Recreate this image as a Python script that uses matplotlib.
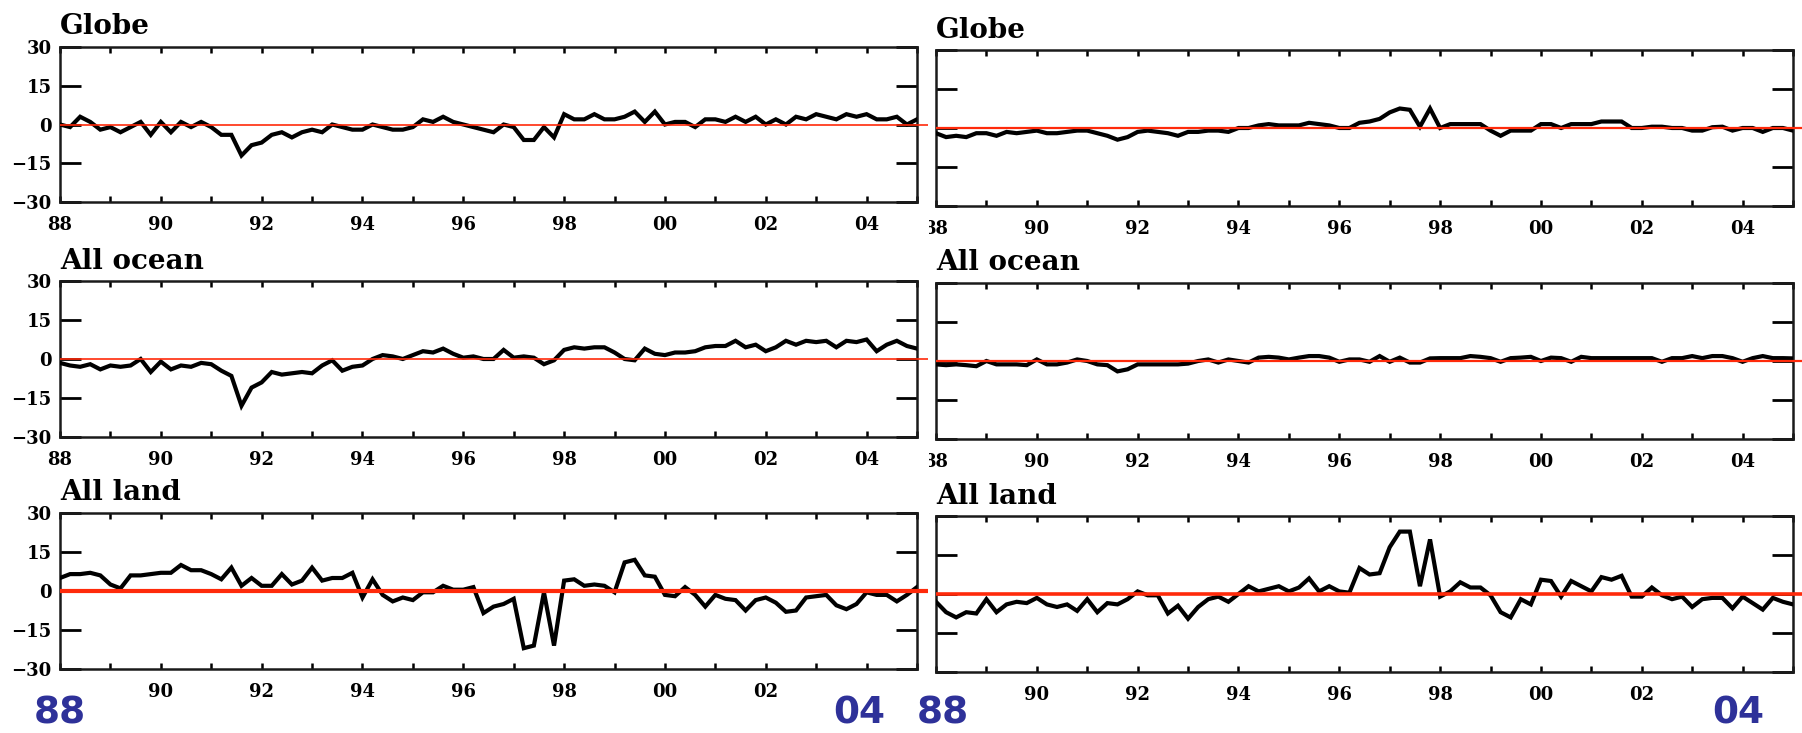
import numpy as np
import matplotlib
matplotlib.use("Agg")
import matplotlib.pyplot as plt
from matplotlib.patches import Rectangle

# ---------------- data (decimal-year samples, every 0.2 yr) ----------------
years = np.round(np.arange(1988.0, 2005.01, 0.2), 1)

globe_left = [0, -1, 3, 1, -2,
              -1, -3, -1, 1, -4,
              1, -3, 1, -1, 1,
              -1, -4, -4, -12, -8,
              -7, -4, -3, -5, -3,
              -2, -3, 0, -1, -2,
              -2, 0, -1, -2, -2,
              -1, 2, 1, 3, 1,
              0, -1, -2, -3, 0,
              -1, -6, -6, -1, -5,
              4, 2, 2, 4, 2,
              2, 3, 5, 1, 5,
              0, 1, 1, -1, 2,
              2, 1, 3, 1, 3,
              0, 2, 0, 3, 2,
              4, 3, 2, 4, 3,
              4, 2, 2, 3, 0,
              2]

globe_right = [-2, -3.5, -3, -3.5, -2,
               -2, -3, -1.5, -2, -1.5,
               -1, -2, -2, -1.5, -1,
               -1, -2, -3, -4.5, -3.5,
               -1.5, -1, -1.5, -2, -3,
               -1.5, -1.5, -1, -1, -1.5,
               0, 0, 1, 1.5, 1,
               1, 1, 2, 1.5, 1,
               0, 0, 2, 2.5, 3.5,
               6, 7.5, 7, 0.5, 7.5,
               0, 1.5, 1.5, 1.5, 1.5,
               -1, -3, -1, -1, -1,
               1.5, 1.5, 0, 1.5, 1.5,
               1.5, 2.5, 2.5, 2.5, 0,
               0, 0.5, 0.5, 0, 0,
               -1, -1, 0.3, 0.5, -1,
               0, 0, -1.5, 0, 0,
               -1]

ocean_left = [-1.5, -2.5, -3, -2, -4,
              -2.5, -3, -2.5, 0, -5,
              -1, -4, -2.5, -3, -1.5,
              -2, -4.5, -6.5, -18, -11,
              -9, -5, -6, -5.5, -5,
              -5.5, -2.5, -0.5, -4.5, -3,
              -2.5, 0, 1.5, 1, 0,
              1.5, 3, 2.5, 4, 2,
              0.5, 1, 0, 0, 3.5,
              0.5, 1, 0.5, -2, -0.5,
              3.5, 4.5, 4, 4.5, 4.5,
              2.5, 0, -0.5, 4, 2,
              1.5, 2.5, 2.5, 3, 4.5,
              5, 5, 7, 4.5, 5.5,
              3, 4.5, 7, 5.5, 7,
              6.5, 7, 4.5, 7, 6.5,
              7.5, 3, 5.5, 7, 5,
              4]

ocean_right = [-1.3, -1.6, -1.3, -1.6, -2,
               0, -1.3, -1.3, -1.3, -1.6,
               0.6, -1.3, -1.3, -0.6, 0.6,
               0, -1.3, -1.6, -4, -3.2,
               -1.3, -1.3, -1.3, -1.3, -1.3,
               -1, 0, 0.6, -0.6, 0.6,
               0, -0.6, 1.3, 1.6, 1.3,
               0.6, 1.3, 1.9, 1.9, 1.3,
               -0.3, 0.6, 0.6, -0.3, 1.9,
               -0.3, 1.3, -0.6, -0.6, 1,
               1.1, 1.1, 1.1, 1.9, 1.6,
               1.1, -0.3, 1.1, 1.3, 1.6,
               0, 1.3, 1.1, -0.3, 1.6,
               1.1, 1.1, 1.1, 1.1, 1.1,
               1.1, 1.1, -0.3, 1.1, 1.1,
               1.9, 1.1, 1.9, 1.9, 1.1,
               -0.3, 1.1, 1.9, 1.1, 1.1,
               1]

land_left = [5, 6.5, 6.5, 7, 6,
             2.5, 1, 6, 6, 6.5,
             7, 7, 10, 8, 8,
             6.5, 4.5, 9, 2, 5,
             2, 2, 6.5, 2.5, 4,
             9, 4, 5, 5, 7,
             -2.5, 4.5, -1.5, -4, -2.5,
             -3.5, -0.5, -0.5, 2, 0.5,
             0.5, 1.5, -8.5, -6, -5,
             -3, -22, -21, -0.5, -21,
             4, 4.5, 2, 2.5, 2,
             -0.5, 11, 12, 6, 5.5,
             -1.5, -2, 1.5, -1.5, -6,
             -1.5, -3, -3.5, -7.5, -3.5,
             -2.5, -4.5, -8, -7.5, -2.5,
             -2, -1.5, -5.5, -7, -5,
             -0.5, -1.5, -1.5, -4, -1.5,
             1.5]

land_right = [-3, -7, -9, -7, -7.5,
              -2, -7, -4, -3, -3.5,
              -1.5, -4, -5, -4, -6.5,
              -2, -7, -3.5, -4, -2,
              1, -0.5, -0.5, -7.5, -4.5,
              -9.5, -5, -2, -1, -3,
              0, 3, 1, 2, 3,
              1, 2.5, 6, 1, 3,
              1, 0.5, 10, 7.5, 8,
              18, 24, 24, 3, 21,
              -1, 1, 4.5, 2.5, 2.5,
              -0.5, -7, -9, -2, -4,
              5.5, 5, -1, 5, 3,
              1, 6.5, 5.5, 7, -1,
              -1, 2.5, -0.5, -2, -1,
              -5, -2, -1.5, -1.5, -5.5,
              -1, -3.5, -6, -1.5, -3,
              -4]

titles = ["Globe", "All ocean", "All land"]
year_ticks = list(range(1988, 2006))
year_labels = {1988: "88", 1990: "90", 1992: "92", 1994: "94", 1996: "96",
               1998: "98", 2000: "00", 2002: "02", 2004: "04"}
y_ticks = [-30, -15, 0, 15, 30]
y_labels = ["\u221230", "\u221215", "0", "15", "30"]
corner_labels = ["88", "04", "88", "04"]

series = [[globe_left, globe_right],
          [ocean_left, ocean_right],
          [land_left, land_right]]

# ---------------- layout ----------------
W, H = 1802, 733
fig = plt.figure(figsize=(W / 100, H / 100), dpi=100)
fig.patch.set_facecolor("white")

col_x = [(60, 917), (936, 1793)]
row_y = [[(47, 202), (50, 206)],
         [(281, 437), (283, 439)],
         [(513, 669), (516, 672)]]
red = "#ff2a0a"
red_lw = [[1.2, 1.6], [1.2, 1.6], [3.0, 2.6]]
red_end = [2005.22, 2005.2]

tick_font = dict(family="DejaVu Serif", weight="bold", size=13)

for r in range(3):
    for c in range(2):
        x0, x1 = col_x[c]
        y0, y1 = row_y[r][c]
        ax = fig.add_axes([x0 / W, 1 - y1 / H, (x1 - x0) / W, (y1 - y0) / H])
        ax.plot(years, series[r][c], color="black", lw=3.0,
                solid_joinstyle="miter", zorder=3)
        ax.plot([1988, red_end[c]], [0, 0], color=red, lw=red_lw[r][c],
                clip_on=False, zorder=4, solid_capstyle="butt")
        ax.set_xlim(1988, 2005)
        ax.set_ylim(-30, 30)

        labs = []
        for yr in year_ticks:
            lab = year_labels.get(yr, "")
            if r == 2 and yr in (1988, 2004):
                lab = ""
            labs.append(lab)
        ax.set_xticks(year_ticks)
        ax.set_xticklabels(labs, fontdict=tick_font)
        ax.set_yticks(y_ticks)
        if c == 0:
            ax.set_yticklabels(y_labels, fontdict=tick_font)
        else:
            ax.set_yticklabels([])

        ax.tick_params(axis="x", direction="in", length=4, width=1.8,
                       top=True, bottom=True, pad=10, colors="black")
        ax.tick_params(axis="y", direction="in", length=15, width=2.0,
                       left=True, right=True, pad=6, colors="black")
        for sp in ax.spines.values():
            sp.set_linewidth(1.8)
            sp.set_color("#1a1a1a")

        ax.set_title(titles[r], loc="left", pad=9,
                     fontdict=dict(family="DejaVu Serif", weight="bold", size=20))

# cut the left half of the right column's "88" labels (as in the source image)
for (ya, yb) in [(212, 240), (447, 476)]:
    fig.patches.append(Rectangle((918 / W, 1 - yb / H), (929 - 918) / W, (yb - ya) / H,
                                 transform=fig.transFigure, facecolor="white",
                                 edgecolor="none", zorder=10))

# big blue year markers along the bottom
blue = "#2e3199"
corner_x = [60, 859, 943, 1738]
for lab, xp in zip(corner_labels, corner_x):
    fig.text(xp / W, 1 - 714 / H, lab, color=blue, fontsize=27,
             fontweight="bold", family="DejaVu Sans", ha="center", va="center")

fig.savefig("out.png", dpi=100, facecolor="white")
